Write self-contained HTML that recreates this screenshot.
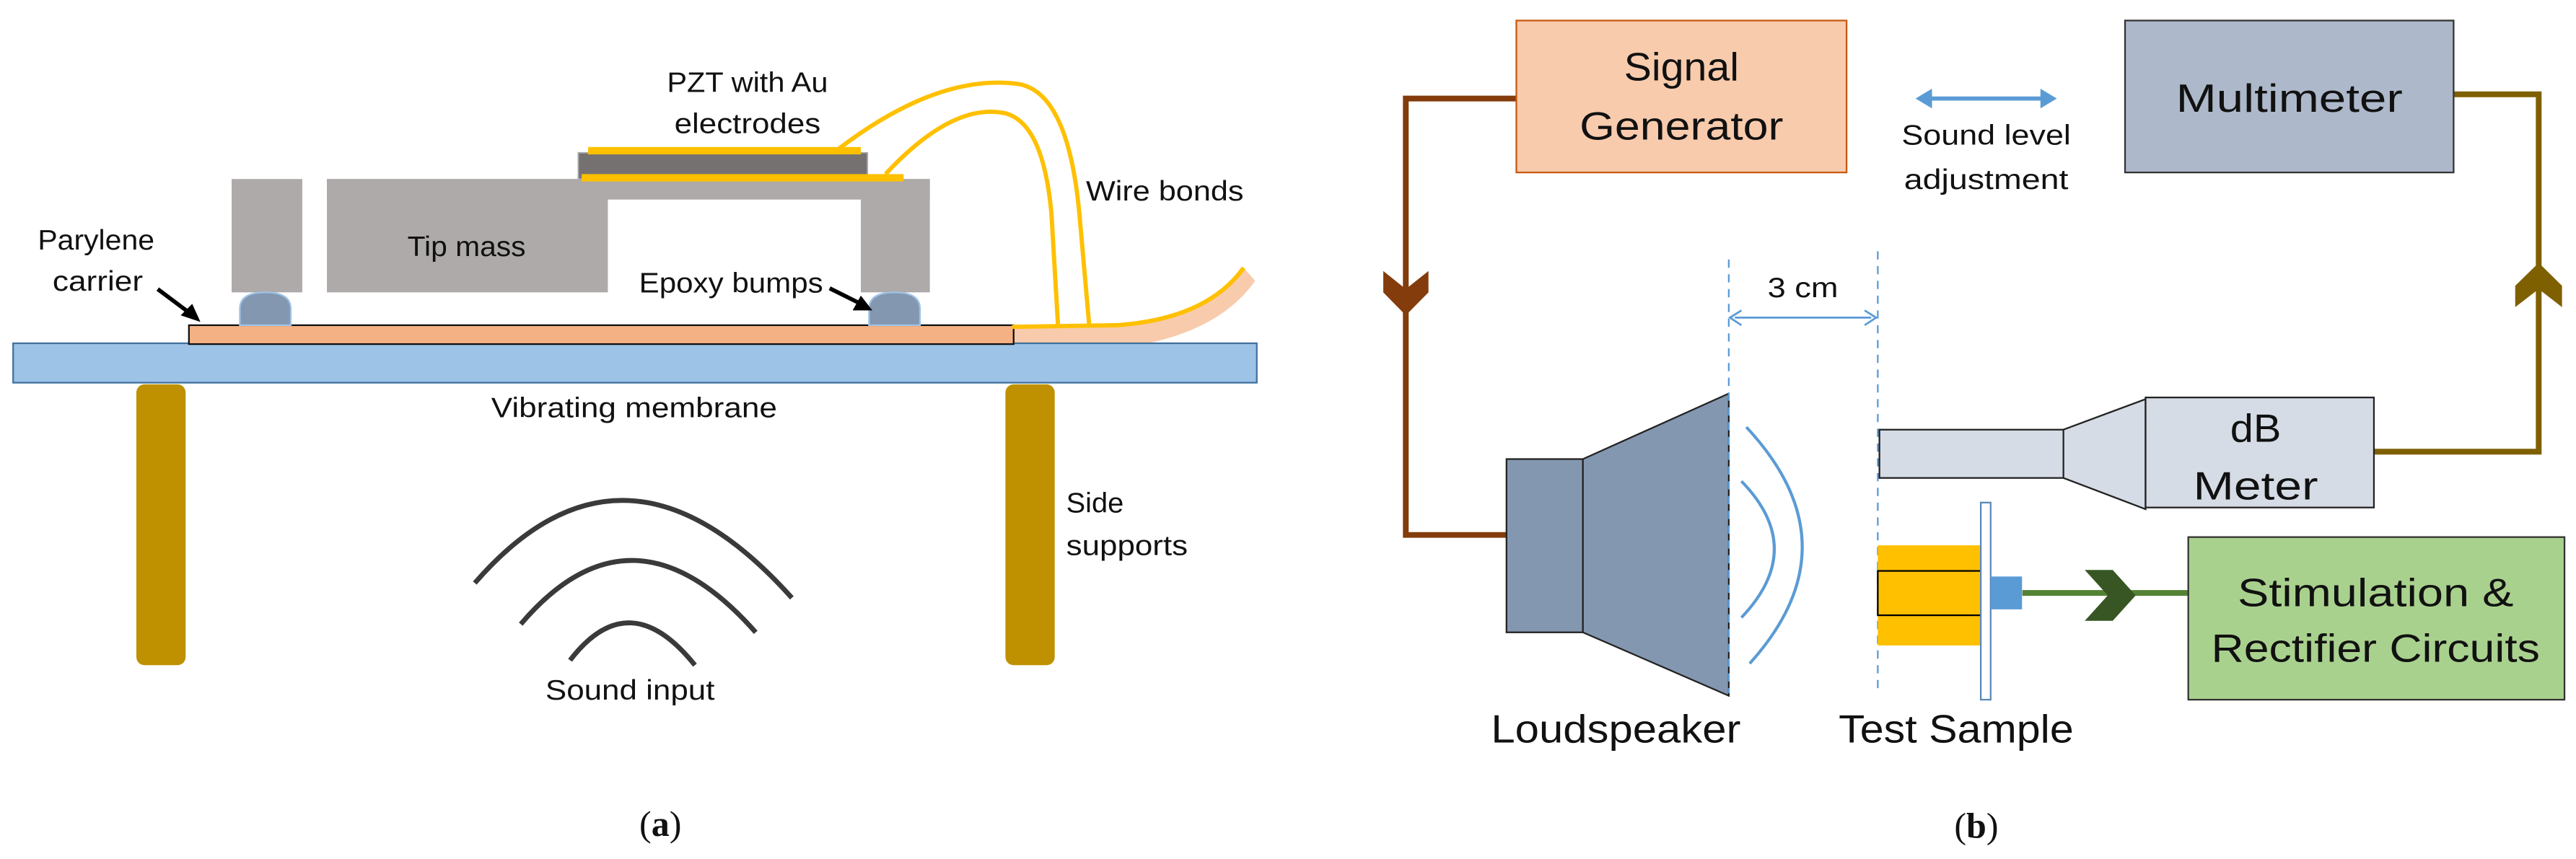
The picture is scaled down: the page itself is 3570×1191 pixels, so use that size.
<!DOCTYPE html>
<html><head><meta charset="utf-8"><style>
html,body{margin:0;padding:0;background:#fff;overflow:hidden}
svg{display:block}
text{font-family:"Liberation Sans",sans-serif;fill:#111}
</style></head><body>
<svg width="3570" height="1191" viewBox="0 0 1568 523" preserveAspectRatio="none" xmlns="http://www.w3.org/2000/svg">
<!-- Panel (a) -->
<path d="M616,199 L680,198 Q735,194 757,163 L764,171 Q740,205 680,212 L616,212 Z" fill="#f8cbad"/>
<rect x="8" y="209" width="757" height="24" fill="#9dc3e6" stroke="#41719c" stroke-width="1"/>
<rect x="115" y="198" width="502" height="11.5" fill="#f4b183" stroke="#111" stroke-width="1"/>
<rect x="83" y="234" width="30" height="171" rx="5" fill="#bf9000"/>
<rect x="612" y="234" width="30" height="171" rx="5" fill="#bf9000"/>
<rect x="141" y="109" width="43" height="69" fill="#aeaaaa"/>
<rect x="199" y="109" width="171" height="69" fill="#aeaaaa"/>
<rect x="199" y="109" width="367" height="12.5" fill="#aeaaaa"/>
<rect x="524" y="109" width="42" height="69" fill="#aeaaaa"/>
<path d="M146,198 L146,188 Q146,178 161.5,178 Q177,178 177,188 L177,198 Z" fill="#8497b0" stroke="#9dc3e6" stroke-width="1"/>
<path d="M529,198 L529,188 Q529,178 544.5,178 Q560,178 560,188 L560,198 Z" fill="#8497b0" stroke="#9dc3e6" stroke-width="1"/>
<rect x="352" y="93" width="176" height="16" fill="#767171" stroke="#aaa" stroke-width="0.8"/>
<rect x="358" y="89.5" width="166" height="4.5" fill="#ffc000"/>
<rect x="354" y="106" width="196" height="4.5" fill="#ffc000"/>
<g fill="none" stroke="#ffc000" stroke-width="2.6">
<path d="M510,91 Q570,45 619,51 Q650,55 657,130 L663,198"/>
<path d="M539,106 Q580,62 612,69 Q635,75 640,130 L644,198"/>
<path d="M616,199 L680,198 Q735,194 757,163"/>
</g>
<g fill="none" stroke="#3a3a3a" stroke-width="3">
<path d="M289,355 Q380,250 482,364"/>
<path d="M317,380 Q385,300 460,385"/>
<path d="M347,402 Q383,355 423,405"/>
</g>
<g stroke="#000" stroke-width="2.5"><line x1="96" y1="176" x2="116" y2="191"/><line x1="505" y1="175.5" x2="522" y2="184"/></g>
<polygon points="122,196 110,192 117,185" fill="#000"/>
<polygon points="531,189 519,189 524,180" fill="#000"/>
<g font-size="17">
<text x="455" y="56" text-anchor="middle" textLength="98" lengthAdjust="spacingAndGlyphs">PZT with Au</text>
<text x="455" y="81" text-anchor="middle" textLength="89" lengthAdjust="spacingAndGlyphs">electrodes</text>
<text x="661" y="122" textLength="96" lengthAdjust="spacingAndGlyphs">Wire bonds</text>
<text x="23" y="152" textLength="71" lengthAdjust="spacingAndGlyphs">Parylene</text>
<text x="32" y="177" textLength="55" lengthAdjust="spacingAndGlyphs">carrier</text>
<text x="248" y="156" textLength="72" lengthAdjust="spacingAndGlyphs">Tip mass</text>
<text x="389" y="178" textLength="112" lengthAdjust="spacingAndGlyphs">Epoxy bumps</text>
<text x="299" y="254" textLength="174" lengthAdjust="spacingAndGlyphs">Vibrating membrane</text>
<text x="649" y="312" textLength="35" lengthAdjust="spacingAndGlyphs">Side</text>
<text x="649" y="338" textLength="74" lengthAdjust="spacingAndGlyphs">supports</text>
<text x="332" y="426" textLength="103" lengthAdjust="spacingAndGlyphs">Sound input</text>
</g>
<text x="402" y="509" text-anchor="middle" font-size="22" style="font-family:'Liberation Serif',serif">(<tspan font-weight="bold">a</tspan>)</text>

<!-- Panel (b) -->
<g fill="none" stroke-width="3.5">
<path d="M923,60 L855.7,60 L855.7,325.7 L917,325.7" stroke="#843c0c"/>
<path d="M1493.6,57.4 L1545.3,57.4 L1545.3,275 L1445,275" stroke="#7f6000"/>
<path d="M1231,361 L1332,361" stroke="#548235"/>
</g>
<polygon points="842,165 855.7,176 869.5,165 869.5,178 855.7,192 842,178" fill="#843c0c"/>
<polygon points="1531,187 1545.3,176 1559.5,187 1559.5,174 1545.3,160 1531,174" fill="#7f6000"/>
<polygon points="1269,347 1286,347 1300,362.5 1286,378 1269,378 1283,362.5" fill="#375623"/>
<rect x="923" y="12.5" width="201" height="92.5" fill="#f8cbad" stroke="#c55a11" stroke-width="1"/>
<rect x="1293.5" y="12.5" width="200" height="92.5" fill="#adb9ca" stroke="#333" stroke-width="1"/>
<rect x="1332" y="327" width="229" height="99" fill="#a9d18e" stroke="#333" stroke-width="1"/>
<line x1="1172" y1="60" x2="1246" y2="60" stroke="#5b9bd5" stroke-width="2.5"/>
<polygon points="1166,60 1176,54 1176,66" fill="#5b9bd5"/>
<polygon points="1252,60 1242,54 1242,66" fill="#5b9bd5"/>
<rect x="917" y="279.5" width="46.5" height="105.5" fill="#8497b0" stroke="#222" stroke-width="1"/>
<polygon points="963.5,279.5 1052.3,239.6 1052.3,423.6 963.5,385" fill="#8497b0" stroke="#222" stroke-width="1"/>
<g fill="none" stroke="#5b9bd5" stroke-width="1.8">
<path d="M1063,260 Q1130,332 1065,404"/>
<path d="M1060,293 Q1100,334 1060,376"/>
</g>
<g stroke="#5b9bd5" stroke-width="1" stroke-dasharray="5,4">
<line x1="1052.3" y1="158" x2="1052.3" y2="422"/>
<line x1="1143" y1="153" x2="1143" y2="422"/>
</g>
<line x1="1056" y1="193.4" x2="1139" y2="193.4" stroke="#5b9bd5" stroke-width="1.2"/>
<polyline points="1060,189 1053,193.4 1060,198" fill="none" stroke="#5b9bd5" stroke-width="1.2"/>
<polyline points="1135,189 1142,193.4 1135,198" fill="none" stroke="#5b9bd5" stroke-width="1.2"/>
<rect x="1144" y="261.6" width="112" height="29.4" fill="#d6dce5" stroke="#222" stroke-width="1"/>
<polygon points="1256,261.6 1306,243 1306,310 1256,291" fill="#d6dce5" stroke="#222" stroke-width="1"/>
<rect x="1306" y="242" width="139" height="67" fill="#d6dce5" stroke="#222" stroke-width="1"/>
<rect x="1143" y="332" width="63" height="61" fill="#ffc000"/>
<rect x="1143" y="347.6" width="68" height="27" fill="none" stroke="#000" stroke-width="1"/>
<rect x="1205.7" y="306" width="6" height="120" fill="#fff" stroke="#5b88b8" stroke-width="1"/>
<rect x="1211.8" y="351" width="19" height="20" fill="#5b9bd5"/>
<g font-size="24">
<text x="1023.5" y="49" text-anchor="middle" textLength="70" lengthAdjust="spacingAndGlyphs">Signal</text>
<text x="1023.5" y="85" text-anchor="middle" textLength="124" lengthAdjust="spacingAndGlyphs">Generator</text>
<text x="1393.5" y="68" text-anchor="middle" textLength="138" lengthAdjust="spacingAndGlyphs">Multimeter</text>
<text x="1373" y="269" text-anchor="middle" textLength="31" lengthAdjust="spacingAndGlyphs">dB</text>
<text x="1373" y="304" text-anchor="middle" textLength="76" lengthAdjust="spacingAndGlyphs">Meter</text>
<text x="1446" y="369" text-anchor="middle" textLength="168" lengthAdjust="spacingAndGlyphs">Stimulation &amp;</text>
<text x="1446" y="403" text-anchor="middle" textLength="200" lengthAdjust="spacingAndGlyphs">Rectifier Circuits</text>
<text x="983.6" y="452" text-anchor="middle" textLength="152" lengthAdjust="spacingAndGlyphs">Loudspeaker</text>
<text x="1190.7" y="452" text-anchor="middle" textLength="143" lengthAdjust="spacingAndGlyphs">Test Sample</text>
</g>
<g font-size="17">
<text x="1209" y="88" text-anchor="middle" textLength="103" lengthAdjust="spacingAndGlyphs">Sound level</text>
<text x="1209" y="115" text-anchor="middle" textLength="100" lengthAdjust="spacingAndGlyphs">adjustment</text>
<text x="1097.4" y="181" text-anchor="middle" textLength="43" lengthAdjust="spacingAndGlyphs">3 cm</text>
</g>
<text x="1203" y="510" text-anchor="middle" font-size="22" style="font-family:'Liberation Serif',serif">(<tspan font-weight="bold">b</tspan>)</text>
</svg>
</body></html>
